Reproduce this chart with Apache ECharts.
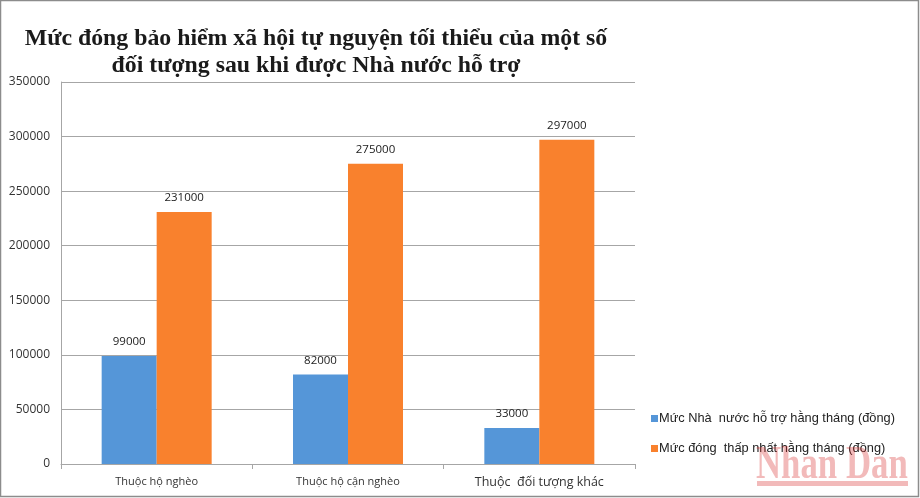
<!DOCTYPE html>
<html>
<head>
<meta charset="utf-8">
<title>Mức đóng bảo hiểm xã hội tự nguyện</title>
<script src="https://cdn.jsdelivr.net/npm/echarts@6/dist/echarts.min.js"></script>
<style>
  html, body { margin: 0; padding: 0; background: #fff; }
  #chart { width: 920px; height: 498px; }
</style>
</head>
<body>
<div id="chart"></div>
<script>
  var categories = ['Thuộc hộ nghèo', 'Thuộc hộ cận nghèo', 'Thuộc  đối tượng khác'];
  var stateSupport = [99000, 82000, 33000];
  var minimumPay = [231000, 275000, 297000];
  var seriesNames = ['Mức Nhà  nước hỗ trợ hằng tháng (đồng)', 'Mức đóng  thấp nhất hằng tháng (đồng)'];
  var titleText = 'Mức đóng bảo hiểm xã hội tự nguyện tối thiểu của một số\nđối tượng sau khi được Nhà nước hỗ trợ';

  var chart = echarts.init(document.getElementById('chart'));

  chart.setOption({
    animation: false,
    backgroundColor: '#fff',
    title: {
      text: titleText,
      left: 311,
      top: 20,
      textAlign: 'center',
      textStyle: {
        fontFamily: 'Liberation Serif',
        fontSize: 23.8,
        fontWeight: 'bold',
        lineHeight: 27.5,
        color: '#1a1a1a'
      }
    },
    grid: { left: 61, right: 285, top: 82, bottom: 34 },
    legend: {
      orient: 'vertical',
      left: 646,
      top: 407,
      itemWidth: 7,
      itemHeight: 7,
      itemGap: 17,
      icon: 'rect',
      data: seriesNames,
      textStyle: { fontFamily: 'Liberation Sans', fontSize: 12.8, color: '#222', padding: [0, 0, 0, -4] }
    },
    xAxis: {
      type: 'category',
      data: categories,
      axisLine: { lineStyle: { color: '#a6a6a6', width: 1 } },
      axisTick: { show: true, length: 5, alignWithLabel: false, lineStyle: { color: '#a6a6a6' } },
      axisLabel: {
        margin: 12,
        fontFamily: 'Open Sans',
        fontSize: 11,
        color: '#333',
        formatter: function (v, i) {
          return i === 2 ? '{big|' + v + '}' : v;
        },
        rich: { big: { fontFamily: 'Open Sans', fontSize: 12.5, color: '#333' } }
      }
    },
    yAxis: {
      type: 'value',
      min: 0,
      max: 350000,
      interval: 50000,
      axisLine: { show: true, lineStyle: { color: '#a6a6a6', width: 1 } },
      axisTick: { show: false },
      axisLabel: {
        margin: 11,
        fontFamily: 'Open Sans',
        fontSize: 12,
        color: '#333',
        formatter: function (v) { return String(v); }
      },
      splitLine: { lineStyle: { color: '#a6a6a6', width: 1 } }
    },
    series: [
      {
        name: seriesNames[0],
        type: 'bar',
        data: stateSupport,
        barWidth: 55,
        barGap: 0,
        itemStyle: { color: '#5596d8' },
        label: { show: true, position: 'top', distance: 8, fontFamily: 'Open Sans', fontSize: 11.5, color: '#222' }
      },
      {
        name: seriesNames[1],
        type: 'bar',
        data: minimumPay,
        barWidth: 55,
        itemStyle: { color: '#f9812d' },
        label: { show: true, position: 'top', distance: 8, fontFamily: 'Open Sans', fontSize: 11.5, color: '#222' }
      }
    ],
    graphic: [
      // khung ngoài
      {
        type: 'rect',
        shape: { x: 0.5, y: 0.5, width: 918, height: 496 },
        style: { fill: 'none', stroke: '#8c8c8c', lineWidth: 1.5 },
        silent: true
      },
      // watermark
      {
        type: 'text',
        x: 756,
        y: 442,
        scaleX: 0.74,
        z: 100,
        style: {
          text: 'Nhan Dan',
          fontFamily: 'Liberation Serif',
          fontSize: 47,
          fontWeight: 'bold',
          fill: 'rgba(214,40,40,0.32)'
        },
        silent: true
      },
      {
        type: 'rect',
        z: 100,
        shape: { x: 757, y: 481, width: 151, height: 5 },
        style: { fill: 'rgba(214,40,40,0.32)' },
        silent: true
      }
    ]
  });
</script>
</body>
</html>
